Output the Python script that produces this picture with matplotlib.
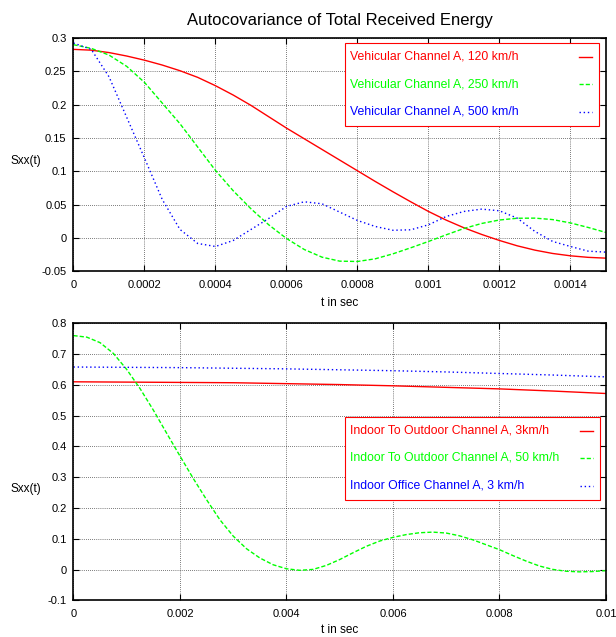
import matplotlib
matplotlib.use('Agg')
from matplotlib import pyplot as plt
from matplotlib.lines import Line2D
from matplotlib.patches import Rectangle

plt.rcParams['font.family'] = 'Liberation Sans'

# time axis of the vehicular channels (sec)
t_veh = [0.0, 0.00005, 0.0001, 0.00015, 0.0002, 0.00025, 0.0003, 0.00035,
         0.0004, 0.00045, 0.0005, 0.00055, 0.0006, 0.00065, 0.0007, 0.00075,
         0.0008, 0.00085, 0.0009, 0.00095, 0.001, 0.00105, 0.0011, 0.00115,
         0.0012, 0.00125, 0.0013, 0.00135, 0.0014, 0.00145, 0.0015]

veh_120 = [0.283, 0.2818, 0.2782, 0.2730, 0.2668, 0.2595, 0.2510, 0.2410,
           0.2285, 0.2145, 0.1990, 0.1820, 0.1650, 0.1490, 0.1330, 0.1170,
           0.1010, 0.0850, 0.0695, 0.0545, 0.0400, 0.0270, 0.0155, 0.0055,
           -0.0035, -0.0115, -0.0180, -0.0230, -0.0265, -0.0288, -0.0300]

veh_250 = [0.290, 0.2845, 0.2745, 0.2575, 0.2335, 0.2025, 0.1715, 0.1365,
           0.1015, 0.0710, 0.0440, 0.0200, -0.0005, -0.0170, -0.0285, -0.0345,
           -0.0350, -0.0310, -0.0235, -0.0145, -0.0050, 0.0050, 0.0145, 0.0220,
           0.0272, 0.0298, 0.0300, 0.0278, 0.0228, 0.0160, 0.0085]

veh_500 = [0.2925, 0.2830, 0.2420, 0.1810, 0.1200, 0.0580, 0.0130, -0.0080,
           -0.0125, -0.0035, 0.0130, 0.0295, 0.0475, 0.0545, 0.0515, 0.0390,
           0.0265, 0.0175, 0.0118, 0.0125, 0.0200, 0.0325, 0.0400, 0.0435,
           0.0410, 0.0300, 0.0100, -0.0050, -0.0125, -0.0195, -0.0210]

veh_names = ['Vehicular Channel A, 120 km/h', 'Vehicular Channel A, 250 km/h',
             'Vehicular Channel A, 500 km/h']

# time axis of the indoor channels (sec)
t_in = [0.0, 0.00025, 0.0005, 0.00075, 0.001, 0.00125, 0.0015, 0.00175,
        0.002, 0.00225, 0.0025, 0.00275, 0.003, 0.00325, 0.0035, 0.00375,
        0.004, 0.00425, 0.0045, 0.00475, 0.005, 0.00525, 0.0055, 0.00575,
        0.006, 0.00625, 0.0065, 0.00675, 0.007, 0.00725, 0.0075, 0.00775,
        0.008, 0.00825, 0.0085, 0.00875, 0.009, 0.00925, 0.0095, 0.00975,
        0.01]

out_50 = [0.760, 0.755, 0.737, 0.702, 0.650, 0.588, 0.518, 0.443,
          0.369, 0.296, 0.227, 0.162, 0.109, 0.068, 0.038, 0.016,
          0.003, -0.002, 0.001, 0.014, 0.033, 0.055, 0.076, 0.093,
          0.105, 0.114, 0.120, 0.122, 0.119, 0.110, 0.097, 0.081,
          0.065, 0.046, 0.028, 0.012, 0.001, -0.005, -0.007, -0.006,
          -0.003]

t_slow = [0.0, 0.001, 0.002, 0.003, 0.004, 0.005, 0.006, 0.007, 0.008,
          0.009, 0.01]
out_3 = [0.610, 0.609, 0.608, 0.607, 0.604, 0.601, 0.597, 0.592, 0.587,
         0.580, 0.572]
office_3 = [0.658, 0.657, 0.656, 0.654, 0.652, 0.649, 0.646, 0.642, 0.637,
            0.632, 0.626]

in_names = ['Indoor To Outdoor Channel A, 3km/h',
            'Indoor To Outdoor Channel A, 50 km/h',
            'Indoor Office Channel A, 3 km/h']

# tick positions and labels
veh_xticks = [0, 0.0002, 0.0004, 0.0006, 0.0008, 0.001, 0.0012, 0.0014]
veh_xlabels = ['0', '0.0002', '0.0004', '0.0006', '0.0008', '0.001',
               '0.0012', '0.0014']
veh_yticks = [-0.05, 0, 0.05, 0.1, 0.15, 0.2, 0.25, 0.3]
veh_ylabels = ['-0.05', '0', '0.05', '0.1', '0.15', '0.2', '0.25', '0.3']
in_xticks = [0, 0.002, 0.004, 0.006, 0.008, 0.01]
in_xlabels = ['0', '0.002', '0.004', '0.006', '0.008', '0.01']
in_yticks = [-0.1, 0, 0.1, 0.2, 0.3, 0.4, 0.5, 0.6, 0.7, 0.8]
in_ylabels = ['-0.1', '0', '0.1', '0.2', '0.3', '0.4', '0.5', '0.6', '0.7',
              '0.8']

# one colour / dash pattern per curve, same order in both panels
COLORS = ['#ff0000', '#00ff00', '#0000ff']
STYLES = ['-', (0, (3, 1.5)), (0, (1, 2))]


def style_axes(ax, xticks, xlabels, yticks, ylabels):
    ax.set_xticks(xticks)
    ax.set_xticklabels(xlabels)
    ax.set_yticks(yticks)
    ax.set_yticklabels(ylabels)
    ax.grid(True, color='black', linestyle=(0, (1, 2)), linewidth=0.5)
    ax.tick_params(direction='in', length=4, width=0.8, top=True,
                   right=True, labelsize=8)
    ax.tick_params(axis='x', pad=6)
    ax.tick_params(axis='y', pad=5)
    for sp in ax.spines.values():
        sp.set_linewidth(1.2)


def draw_key(ax, names, box, rows, text_x, handle_x):
    # gnuplot style key: label text on the left, line sample on the right
    x0, y0, x1, y1 = box
    ax.add_patch(Rectangle((x0, y0), x1 - x0, y1 - y0,
                           transform=ax.transAxes, facecolor='white',
                           edgecolor=COLORS[0], linewidth=0.8, zorder=5))
    for name, color, ls, y in zip(names, COLORS, STYLES, rows):
        ax.text(text_x, y, name, transform=ax.transAxes, color=color,
                fontsize=8.8, ha='left', va='center', zorder=6)
        ax.add_line(Line2D(handle_x, [y, y], transform=ax.transAxes,
                           color=color, linestyle=ls, linewidth=1.0,
                           clip_on=False, zorder=6))


fig = plt.figure(figsize=(6.16, 6.37), dpi=100)

# vehicular channels
ax1 = fig.add_axes([0.1193, 0.5738, 0.8644, 0.3665])
for series, color, ls in zip([veh_120, veh_250, veh_500], COLORS, STYLES):
    ax1.plot(t_veh, series, color=color, linestyle=ls, linewidth=1.0)
ax1.set_xlim(0, 0.0015)
ax1.set_ylim(-0.05, 0.3)
style_axes(ax1, veh_xticks, veh_xlabels, veh_yticks, veh_ylabels)
ax1.set_xlabel('t in sec', fontsize=8.5, va='center')
ax1.xaxis.set_label_coords(0.5, -0.133)
ax1.set_ylabel('Sxx(t)', fontsize=8.5, rotation=0, ha='center', va='center')
ax1.yaxis.set_label_coords(-0.089, 0.473)
draw_key(ax1, veh_names, (0.5093, 0.6244, 0.9869, 0.9773),
         [0.9199, 0.8017, 0.6844], 0.5195, [0.9493, 0.9737])

# indoor channels
ax2 = fig.add_axes([0.1193, 0.0573, 0.8644, 0.4352])
for t, series, color, ls in zip([t_slow, t_in, t_slow],
                                [out_3, out_50, office_3], COLORS, STYLES):
    ax2.plot(t, series, color=color, linestyle=ls, linewidth=1.0)
ax2.set_xlim(0, 0.01)
ax2.set_ylim(-0.1, 0.8)
style_axes(ax2, in_xticks, in_xlabels, in_yticks, in_ylabels)
ax2.set_xlabel('t in sec', fontsize=8.5, va='center')
ax2.xaxis.set_label_coords(0.5, -0.106)
ax2.set_ylabel('Sxx(t)', fontsize=8.5, rotation=0, ha='center', va='center')
ax2.yaxis.set_label_coords(-0.089, 0.402)
draw_key(ax2, in_names, (0.5104, 0.3626, 0.9887, 0.6609),
         [0.6126, 0.5141, 0.4141], 0.5195, [0.9512, 0.9751])

fig.text(0.5519, 1 - 24.5 / 637, 'Autocovariance of Total Received Energy',
         ha='center', va='baseline', fontsize=12)

fig.savefig('out.png', dpi=100)
